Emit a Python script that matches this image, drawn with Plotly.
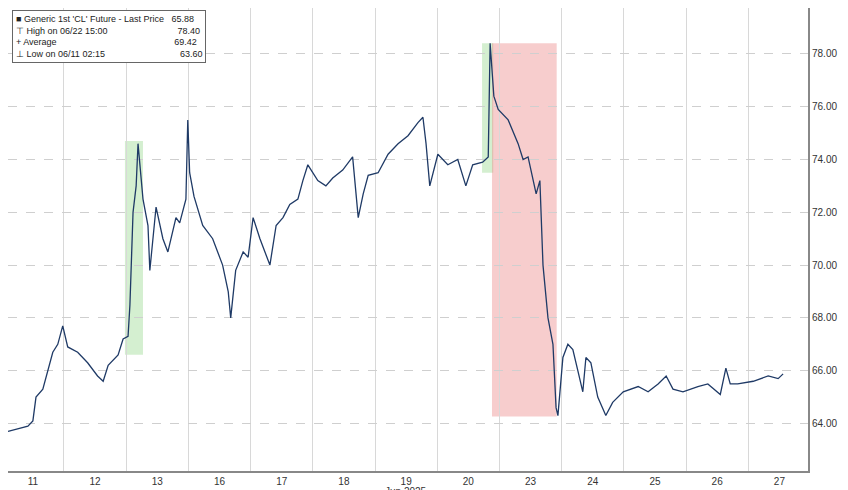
import plotly.graph_objects as go

days = ["11", "12", "13", "16", "17", "18", "19", "20", "23", "24", "25", "26", "27"]

# position in trading days (day i centred on i)
pos = [-0.40, -0.08, 0.00, 0.05, 0.16, 0.32, 0.40, 0.48, 0.56, 0.72,
       0.88, 1.04, 1.13, 1.21, 1.37, 1.45, 1.53, 1.56, 1.61, 1.66,
       1.69, 1.77, 1.85, 1.88, 1.98, 2.09, 2.17, 2.30, 2.36, 2.43,
       2.46, 2.49, 2.52, 2.59, 2.73, 2.89, 3.05, 3.14, 3.18, 3.26,
       3.38, 3.46, 3.54, 3.65, 3.81, 3.91, 4.02, 4.13, 4.26, 4.34,
       4.42, 4.58, 4.71, 4.82, 4.98, 5.14, 5.23, 5.31, 5.39, 5.55,
       5.71, 5.87, 6.03, 6.19, 6.27, 6.32, 6.38, 6.51, 6.67, 6.83,
       6.96, 7.07, 7.23, 7.32, 7.35, 7.41, 7.48, 7.64, 7.80, 7.88,
       7.96, 8.09, 8.15, 8.20, 8.28, 8.36, 8.41, 8.44, 8.52, 8.60,
       8.68, 8.76, 8.84, 8.89, 8.97, 9.08, 9.21, 9.32, 9.49, 9.73,
       9.89, 10.05, 10.18, 10.29, 10.45, 10.69, 10.85, 11.05, 11.14, 11.21,
       11.33, 11.58, 11.82, 11.98, 12.06]
price = [63.7, 63.9, 64.1, 65.0, 65.3, 66.7, 67.0, 67.7, 66.9, 66.7,
         66.3, 65.8, 65.6, 66.2, 66.6, 67.2, 67.3, 68.5, 72.0, 73.0,
         74.6, 72.5, 71.5, 69.8, 72.2, 71.0, 70.5, 71.8, 71.6, 72.3,
         72.5, 75.5, 73.5, 72.6, 71.5, 71.0, 70.0, 69.0, 68.0, 69.8,
         70.5, 70.3, 71.8, 71.0, 70.0, 71.5, 71.8, 72.3, 72.5, 73.2,
         73.8, 73.2, 73.0, 73.3, 73.6, 74.1, 71.8, 72.7, 73.4, 73.5,
         74.2, 74.6, 74.9, 75.4, 75.6, 74.6, 73.0, 74.2, 73.8, 74.0,
         73.0, 73.8, 73.9, 74.1, 78.4, 76.4, 75.9, 75.5, 74.6, 74.0,
         74.1, 72.7, 73.2, 70.0, 68.0, 67.0, 64.6, 64.3, 66.5, 67.0,
         66.8, 66.0, 65.2, 66.5, 66.3, 65.0, 64.3, 64.8, 65.2, 65.4,
         65.2, 65.5, 65.8, 65.3, 65.2, 65.4, 65.5, 65.1, 66.1, 65.5,
         65.5, 65.6, 65.8, 65.7, 65.88]

fig = go.Figure(go.Scatter(x=pos, y=price, mode="lines",
                           line=dict(color="#1f3a66", width=1.3), showlegend=False))

# shaded windows
fig.add_shape(type="rect", x0=1.48, x1=1.77, y0=66.6, y1=74.7, fillcolor="rgba(160,220,150,0.45)", line_width=0, layer="below")
fig.add_shape(type="rect", x0=7.22, x1=7.40, y0=73.5, y1=78.4, fillcolor="rgba(160,220,150,0.45)", line_width=0, layer="below")
fig.add_shape(type="rect", x0=7.38, x1=8.42, y0=64.26, y1=78.4, fillcolor="rgba(235,130,130,0.40)", line_width=0, layer="below")

legend_text = ("■ Generic 1st 'CL' Future - Last Price   65.88<br>"
               "⊤ High on 06/22 15:00                            78.40<br>"
               "+ Average                                               69.42<br>"
               "⊥ Low on 06/11 02:15                              63.60")
fig.add_annotation(xref="paper", yref="paper", x=0.005, y=0.995, xanchor="left", yanchor="top",
                   text=legend_text, showarrow=False, align="left",
                   font=dict(size=9, color="#222"), bgcolor="white",
                   bordercolor="#666", borderwidth=1, borderpad=3)
fig.add_annotation(xref="x", yref="paper", x=6, y=0, yanchor="top", yshift=-13,
                   text="Jun 2025", showarrow=False, font=dict(size=10, color="#333"))

fig.update_layout(
    width=848, height=490, plot_bgcolor="white", paper_bgcolor="white",
    margin=dict(l=0, r=48, t=0, b=27),
    font=dict(family="Liberation Sans Narrow, Liberation Sans, Arial", size=10, color="#333"),
    xaxis=dict(range=[-0.4, 12.46], tickvals=list(range(len(days))), ticktext=days,
               showgrid=False, zeroline=False, showline=True, linecolor="#888", linewidth=2,
               minor=dict(tick0=0.5, dtick=1, showgrid=True, gridcolor="#d8d8d8", gridwidth=1),
               ticks=""),
    yaxis=dict(side="right", range=[62.2, 79.74], tickvals=[64, 66, 68, 70, 72, 74, 76, 78],
               tickformat=".2f", showgrid=True, gridcolor="#cfcfcf", griddash="dash",
               zeroline=False, showline=True, linecolor="#888", linewidth=2, ticks=""),
)
fig.write_html("out.html")
